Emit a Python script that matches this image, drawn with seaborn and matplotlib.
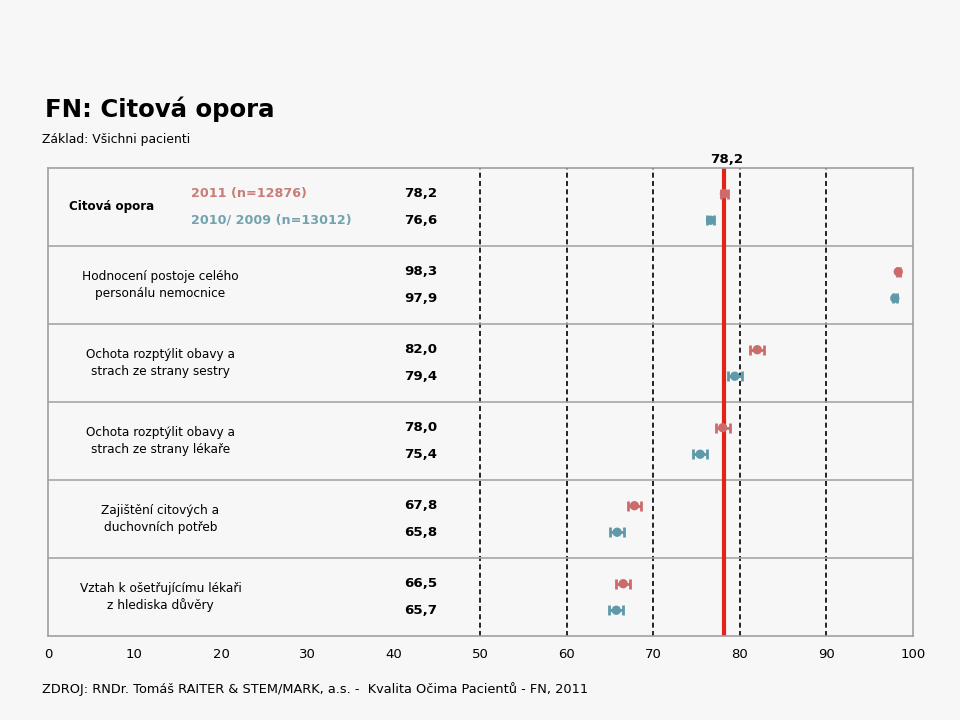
import numpy as np
import pandas as pd
import seaborn as sns
import matplotlib.pyplot as plt

# data
categories = [
    "Citová opora",
    "Hodnocení postoje celého\npersonálu nemocnice",
    "Ochota rozptýlit obavy a\nstrach ze strany sestry",
    "Ochota rozptýlit obavy a\nstrach ze strany lékaře",
    "Zajištění citových a\nduchovních potřeb",
    "Vztah k ošetřujícímu lékaři\nz hlediska důvěry",
]
series = ["2011 (n=12876)", "2010/ 2009 (n=13012)"]
values_2011 = [78.2, 98.3, 82.0, 78.0, 67.8, 66.5]
values_2010 = [76.6, 97.9, 79.4, 75.4, 65.8, 65.7]
err_2011 = [0.4, 0.2, 0.8, 0.8, 0.8, 0.8]
err_2010 = [0.4, 0.2, 0.8, 0.8, 0.8, 0.8]
reference = 78.2
xticks = list(range(0, 101, 10))
dashed_at = [50, 60, 70, 80, 90]

colors = {series[0]: "#CD6B6B", series[1]: "#5E9AAA"}
text_colors = {series[0]: "#C97C78", series[1]: "#73A3AE"}
bg = "#F7F7F7"

rows = []
for i, cat in enumerate(categories):
    rows.append({"row": i, "y": i + 0.33, "series": series[0],
                 "value": values_2011[i], "err": err_2011[i]})
    rows.append({"row": i, "y": i + 0.67, "series": series[1],
                 "value": values_2010[i], "err": err_2010[i]})
df = pd.DataFrame(rows)

sns.set_style("white")
plt.rcParams["font.family"] = ["DejaVu Sans"]
plt.rcParams["text.color"] = "black"
plt.rcParams["xtick.labelcolor"] = "black"

fig = plt.figure(figsize=(9.6, 7.2), dpi=100, facecolor=bg)
ax = fig.add_axes([0.05, 0.1167, 0.901, 0.65])
ax.set_facecolor(bg)

# reference lines
for x in dashed_at:
    ax.axvline(x, color="black", ls=(0, (3, 2)), lw=1.2, zorder=1)
for k in range(1, len(categories)):
    ax.axhline(k, color="#A6A6A6", lw=1.2, zorder=1)
ax.axvline(reference, color="#E2231A", lw=3, zorder=2)

# error bars + points
for s in series:
    sub = df[df["series"] == s]
    ax.errorbar(sub["value"], sub["y"], xerr=sub["err"], fmt="none",
                ecolor=colors[s], elinewidth=2, capsize=3.5, capthick=2, zorder=3)
sns.scatterplot(data=df, x="value", y="y", hue="series", palette=colors,
                s=45, edgecolor="none", legend=False, ax=ax, zorder=4)

# left-hand table text
for i, cat in enumerate(categories):
    if i == 0:
        ax.text(7.4, i + 0.5, cat, ha="center", va="center",
                fontsize=8.6, fontweight="bold")
        for j, s in enumerate(series):
            ax.text(16.5, i + 0.33 + 0.34 * j, s, ha="left", va="center",
                    fontsize=9.2, fontweight="bold", color=text_colors[s])
    else:
        ax.text(13, i + 0.5, cat, ha="center", va="center", fontsize=8.7,
                linespacing=1.35)
    ax.text(43.1, i + 0.33, f"{values_2011[i]:.1f}".replace(".", ","),
            ha="center", va="center", fontsize=9.6, fontweight="bold")
    ax.text(43.1, i + 0.67, f"{values_2010[i]:.1f}".replace(".", ","),
            ha="center", va="center", fontsize=9.6, fontweight="bold")

ax.text(reference + 0.3, -0.03, f"{reference:.1f}".replace(".", ","), ha="center",
        va="bottom", fontsize=9.6, fontweight="bold")

ax.set_xlim(0, 100)
ax.set_ylim(len(categories), 0)
ax.set_xticks(xticks)
ax.set_xticklabels([str(t) for t in xticks], fontsize=9.5)
ax.set_yticks([])
ax.set_xlabel("")
ax.set_ylabel("")
ax.tick_params(axis="x", length=4, color="#808080", pad=5)
for sp in ax.spines.values():
    sp.set_color("#A0A0A0")
    sp.set_linewidth(1.2)

fig.text(0.047, 0.838, "FN: Citová opora", fontsize=17.6, fontweight="bold")
fig.text(0.044, 0.802, "Základ: Všichni pacienti", fontsize=8.9)
fig.text(0.044, 0.038, "ZDROJ: RNDr. Tomáš RAITER & STEM/MARK, a.s. -  Kvalita Očima Pacientů - FN, 2011",
         fontsize=9.3)

fig.savefig("out.png", dpi=100, facecolor=bg)
